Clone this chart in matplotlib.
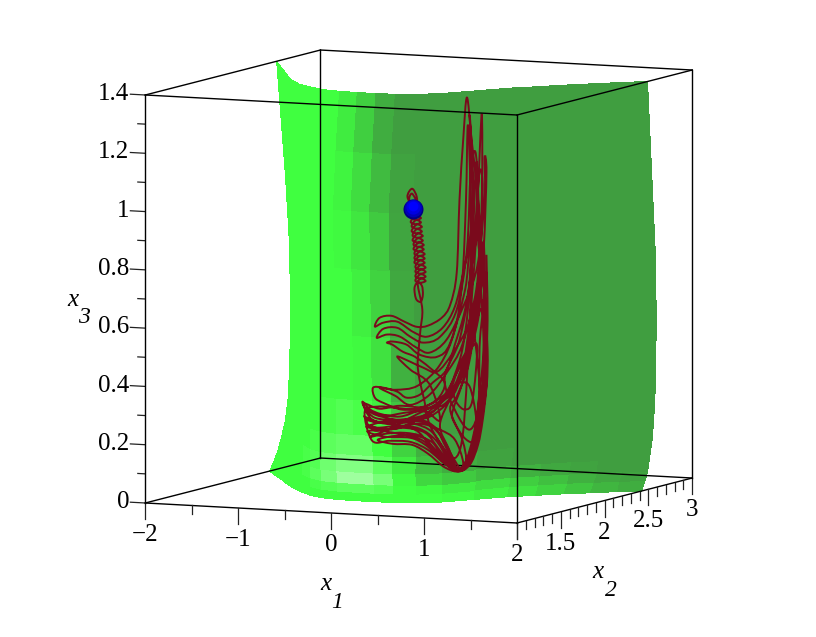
import numpy as np
import matplotlib
matplotlib.use("Agg")
import matplotlib.pyplot as plt
from matplotlib.patches import PathPatch
from matplotlib.path import Path
from mpl_toolkits.mplot3d import art3d, proj3d

plt.rcParams["font.family"] = ["Liberation Serif", "DejaVu Serif"]

# surface: x2 for every (x3, x1) grid node
surf_x1 = [-2.0, -1.8, -1.6, -1.4, -1.2, -1.0, -0.8, -0.6, -0.4, -0.2, 0.0,
           0.2, 0.4, 0.6, 0.8, 1.0, 1.2, 1.4, 1.6, 1.8, 2.0]
surf_x3 = [0.0, 0.03, 0.06, 0.1, 0.16, 0.23, 0.35, 0.57, 0.8, 1.0, 1.2, 1.4]
surf_x2 = [
    [2.42, 2.27, 2.13, 1.98, 1.84, 1.72, 1.61, 1.54, 1.51, 1.50, 1.50, 1.51, 1.55, 1.62, 1.78, 1.94, 2.05, 2.16, 2.25, 2.35, 2.42],
    [2.47, 2.31, 2.16, 2.00, 1.85, 1.73, 1.61, 1.53, 1.50, 1.49, 1.49, 1.50, 1.54, 1.62, 1.78, 1.96, 2.08, 2.20, 2.29, 2.37, 2.46],
    [2.51, 2.35, 2.18, 2.02, 1.87, 1.73, 1.61, 1.53, 1.50, 1.49, 1.49, 1.50, 1.54, 1.62, 1.80, 1.98, 2.10, 2.22, 2.33, 2.41, 2.49],
    [2.55, 2.38, 2.21, 2.04, 1.88, 1.74, 1.61, 1.52, 1.49, 1.48, 1.48, 1.49, 1.53, 1.62, 1.80, 1.99, 2.12, 2.25, 2.34, 2.44, 2.51],
    [2.60, 2.42, 2.24, 2.06, 1.89, 1.75, 1.61, 1.52, 1.49, 1.48, 1.48, 1.49, 1.54, 1.63, 1.82, 2.02, 2.15, 2.27, 2.38, 2.47, 2.54],
    [2.63, 2.44, 2.26, 2.07, 1.90, 1.75, 1.61, 1.52, 1.48, 1.47, 1.47, 1.48, 1.53, 1.62, 1.82, 2.03, 2.17, 2.29, 2.39, 2.49, 2.56],
    [2.65, 2.46, 2.27, 2.08, 1.91, 1.75, 1.61, 1.52, 1.48, 1.47, 1.47, 1.48, 1.53, 1.62, 1.82, 2.04, 2.18, 2.30, 2.41, 2.51, 2.58],
    [2.66, 2.47, 2.28, 2.08, 1.90, 1.75, 1.60, 1.51, 1.47, 1.46, 1.46, 1.47, 1.52, 1.62, 1.82, 2.04, 2.18, 2.30, 2.41, 2.51, 2.59],
    [2.64, 2.45, 2.26, 2.07, 1.89, 1.74, 1.59, 1.50, 1.46, 1.45, 1.45, 1.46, 1.51, 1.60, 1.81, 2.02, 2.16, 2.29, 2.40, 2.50, 2.58],
    [2.60, 2.41, 2.23, 2.04, 1.87, 1.72, 1.58, 1.49, 1.45, 1.44, 1.44, 1.45, 1.50, 1.59, 1.79, 2.00, 2.14, 2.26, 2.37, 2.47, 2.55],
    [2.55, 2.37, 2.19, 2.02, 1.85, 1.71, 1.59, 1.51, 1.48, 1.47, 1.47, 1.48, 1.53, 1.61, 1.79, 1.98, 2.11, 2.23, 2.34, 2.43, 2.52],
    [2.50, 2.33, 2.16, 1.99, 1.83, 1.70, 1.62, 1.55, 1.52, 1.51, 1.51, 1.52, 1.56, 1.65, 1.81, 1.97, 2.08, 2.20, 2.30, 2.40, 2.49],
]
# facet brightness: 0 dark green, 1 full green, 1.5 washed out
surf_shade = [
    [1, 1, 1, 1, 1, 1, 1, 1, 1, 1, 1, 1, 1, .95, .85, .7, .55, .4, .25, .15],
    [1, 1, 1, 1, 1, 1, 1.05, 1.1, 1.15, 1.15, 1.1, 1, .95, .8, .65, .5, .35, .2, .1, .05],
    [1, 1, 1, 1, 1, 1.05, 1.15, 1.3, 1.5, 1.5, 1.3, .95, .6, .45, .3, .2, .1, .05, 0, 0],
    [1, 1, 1, 1, 1, 1.05, 1.1, 1.25, 1.35, 1.35, 1.15, .8, .35, .15, .05, 0, 0, 0, 0, 0],
    [1, 1, 1, 1, 1, 1, 1.05, 1.15, 1.2, 1.2, 1, .55, .2, .05, 0, 0, 0, 0, 0, 0],
    [1, 1, 1, 1, 1, 1, 1, 1.05, 1.1, 1.05, .85, .4, .1, 0, 0, 0, 0, 0, 0, 0],
    [1, 1, 1, 1, 1, 1, 1, 1, 1, .95, .7, .2, .02, 0, 0, 0, 0, 0, 0, 0],
    [1, 1, 1, 1, 1, 1, 1, 1, 1, .85, .55, .1, 0, 0, 0, 0, 0, 0, 0, 0],
    [1, 1, 1, 1, 1, 1, 1, 1, .95, .75, .45, .07, 0, 0, 0, 0, 0, 0, 0, 0],
    [1, 1, 1, 1, 1, 1, 1, 1, .9, .65, .3, .05, 0, 0, 0, 0, 0, 0, 0, 0],
    [1, 1, 1, 1, 1, 1, 1, 1, .8, .5, .15, 0, 0, 0, 0, 0, 0, 0, 0, 0],
]

# trajectory, depth is not readable so it stays at one x2
traj_depth = 1.5
traj_x1 = [
    .41, .35, .40, .45, .44, .37, .40, .46, .44,
    .385, .44, .495, .44, .385, .44, .495, .44, .395, .45, .505, .45, .395, .45, .505, .45,
    .405, .46, .515, .46, .405, .46, .515, .46, .415, .47, .525, .47, .415, .47, .525, .47,
    .425, .48, .535, .48, .425, .48, .535, .48, .425, .48, .535, .48, .435, .49, .545, .49,
    .435, .49, .545, .49, .435, .49, .545, .49, .435, .49, .545, .49,
    .43, .43, .45, .495, .516, .505, .46,
    .51, .49, .47, .46, .48, .53, .59, .75, .89, 1.02, 1.11, 1.16, 1.19, 1.19, 1.16, 1.11, 1.04, .99,
    .95, .91, .88, .81, .72, .57, .45, .32, .18, .05, 0, .09, .24, .41, .56, .73, .86, .95, 1.02, 1.06, 1.02,
    1.05, 1.04, 1.0, .94, .86, .77, .62, .43, .22, 0, -.11, -.13, -.03, .11, .32, .54, .75, .91, 1.02, 1.10, 1.15, 1.15,
    1.11, 1.08, 1.02, .94, .83, .70, .80, .89, .98, 1.08, 1.14, 1.17, 1.17, 1.13, 1.11, 1.08, 1.03, .99, .88, .70, .52, .38, .24, .09, .02,
    .13, .27, .45, .59, .77, .95, 1.10, 1.18, 1.18, 1.20, 1.17, 1.11, 1.02, .94, .81, .59, .38, .11, -.11,
    0, .22, .48, .65, .76, .89, 1.02, 1.11, 1.16, 1.20, 1.21, 1.19, 1.17, 1.13, 1.05, .97, .88, .81, .65, .48, .30, .11, -.09,
    .05, .27, .48, .65, .78, .89, .99, 1.08, 1.13, 1.13, 1.09, 1.04, 1.04, 1.10, 1.02, .97, .81, .67, .48, .34, .19, .13,
    .19, .30, .43, .59, .75, .67, .52, .30, .09, 0, -.02, .09, .24, .34, .48, .62, .77, .86, .97, 1.05, 1.10, 1.13, 1.16,
    1.13, 1.05, .95, .84, .84, .95, 1.05, 1.11, 1.15, 1.20, 1.21, 1.20, 1.15, 1.11, .97, .81, .59, .38, .16, -.05,
    .11, .32, .51, .65, .81, .91, 1.0, 1.06, 1.09, 1.02, .91, .84, .88, .97, 1.05, 1.10, 1.02, .95, .88, .75, .54, .27, .05, -.08,
    .11, .38, .54, .70, .86, .94, 1.02, 1.09, 1.16, 1.17, 1.13, 1.02, .86, .67, .48, .27, .05, -.10,
    0, .22, .43, .61, .76, .89, 1.0, 1.08, 1.12, 1.13, 1.20, 1.02, .84, .67, .52, .38, .24,
    .38, .59, .70, .54, .22, .03, -.11, -.03, .16, .38, .57, .75, .89, .95, .86,
    .70, .48, .22, 0, -.09, .05, .32, .54, .70, .83, .94, 1.04, 1.11, 1.17, 1.15, 1.04, .89, .74, .54, .27, .05, -.12,
    -.03, .16, .43, .59, .75, .89, .98, .94, .81, .89, 1.02, 1.11, 1.14, 1.09, .94, .78, .59, .38, .22, .05,
    .22, .46, .70, .86, .94, .98, 1.0, 1.03, 1.02, .91, .75, .86, 1.02, 1.13, 1.19, 1.18, 1.11, 1.09,
    1.0, .92, .75, .61, .43, .22, .03, .19, .40, .57, .74, .87, .77, .67, .54, .32, .11, -.05,
    .09, .32, .52, .67, .83, .96, 1.05, 1.15, 1.21, 1.20,
]
traj_x3 = [
    1.012, 1.053, 1.081, 1.054, 1.020, 1.043, 1.064, 1.027, .993,
    .982, .975, .982, .989, .967, .960, .967, .974, .952, .945, .952, .959, .936, .929, .936, .943,
    .921, .914, .921, .928, .905, .898, .905, .912, .890, .883, .890, .897, .875, .868, .875, .882,
    .859, .852, .859, .866, .844, .837, .844, .851, .829, .822, .829, .836, .813, .806, .813, .820,
    .798, .791, .798, .805, .782, .775, .782, .789, .767, .760, .767, .774,
    .747, .720, .700, .695, .720, .750, .755,
    .668, .599, .530, .478, .427, .359, .274, .191, .125, .154, .232, .336, .474, .645, .816, 1.055, 1.260, 1.404,
    1.259, 1.052, .801, .690, .644, .614, .608, .623, .641, .632, .601, .616, .622, .590, .576, .610, .684, .802, .917, 1.089, 1.345,
    1.088, .882, .676, .538, .451, .381, .320, .296, .285, .288, .321, .341, .309, .297, .311, .325, .363, .434, .539, .712, 1.056, 1.351,
    1.090, .883, .642, .469, .382, .276, .192, .125, .137, .214, .318, .439, .610, .816, 1.090, 1.220, 1.147, .882, .674, .578, .555, .573, .601, .595, .563,
    .576, .571, .536, .522, .569, .686, .825, 1.057, 1.201, 1.150, .885, .678, .539, .452, .364, .302, .288, .270, .290,
    .275, .282, .290, .265, .202, .125, .144, .215, .301, .415, .542, .714, .909, .816, .643, .514, .458, .398, .327, .290, .276, .277, .256,
    .255, .266, .259, .224, .164, .125, .137, .197, .301, .404, .541, .677, .814, .939, .882, .744, .559, .509, .513, .545, .553, .548,
    .542, .520, .505, .470, .421, .362, .335, .321, .341, .357, .391, .393, .382, .363, .375, .419, .466, .554, .676, .849, 1.055, 1.159, 1.091,
    .850, .608, .435, .330, .296, .240, .221, .242, .301, .415, .474, .645, .782, .644, .470, .381, .333, .295, .253, .222,
    .235, .242, .232, .190, .141, .126, .154, .214, .300, .412, .424, .399, .355, .333, .368, .551, .539, .514, .458, .380, .308, .259, .248, .239,
    .225, .226, .205, .163, .125, .133, .196, .300, .497, .645, .713, .574, .416, .362, .324, .297, .303, .321,
    .299, .285, .275, .251, .185, .129, .168, .266, .386, .576, .807, .632, .526, .458, .469, .487, .502,
    .460, .412, .293, .318, .326, .327, .307, .209, .212, .212, .188, .143, .122, .150, .228,
    .259, .276, .258, .244, .277, .272, .283, .280, .242, .172, .126, .179, .283, .473, .679, .574, .417, .346, .332, .334, .320, .334,
    .281, .270, .255, .206, .157, .118, .154, .229, .329, .383, .505, .746, .953, .746, .555, .460, .378, .339, .367, .392,
    .388, .406, .482, .605, .778, 1.053, 1.311, 1.054, .779, .571, .439, .330, .265, .352, .542, .748, .918, 1.175,
    .500, .200, .167, .216, .234, .230, .213, .202, .202, .175, .133, .120, .158, .200, .246, .259, .249, .260,
    .245, .235, .218, .173, .128, .140, .204, .353, .611, .868,
]
ball = [.41, 1.012]

x1_major = [-2, -1, 0, 1, 2]
x1_minor = [-1.5, -0.5, 0.5, 1.5]
x2_major = [1, 1.5, 2, 2.5, 3]
x2_minor = [1.1, 1.2, 1.3, 1.4, 1.6, 1.7, 1.8, 1.9, 2.1, 2.2, 2.3, 2.4, 2.6, 2.7, 2.8, 2.9]
x3_major = [0, 0.2, 0.4, 0.6, 0.8, 1, 1.2, 1.4]
x3_minor = [0.1, 0.3, 0.5, 0.7, 0.9, 1.1, 1.3]
x1_labels = ["\u22122", "\u22121", "0", "1", "2"]
x2_labels = ["1.5", "2", "2.5", "3"]
x3_labels = ["0", "0.2", "0.4", "0.6", "0.8", "1", "1.2", "1.4"]

W, H = 816, 637
fig = plt.figure(figsize=(W / 100, H / 100), dpi=100)
ax = fig.add_subplot(projection="3d", computed_zorder=False)
ax.set_position([0, -0.14, 1, 1.28])
ax.set_axis_off()
ax.set_proj_type("ortho")
ax.view_init(elev=6.75, azim=-65.4)
ax.set_xlim(-2, 2, view_margin=0)
ax.set_ylim(1, 3, view_margin=0)
ax.set_zlim(0, 1.4, view_margin=0)
ax.set_box_aspect((409, 421, 411))
ax.apply_aspect()


def to_px(x, y, z):
    px, py, _ = proj3d.proj_transform(x, y, z, ax.get_proj())
    return ax.transData.transform((px, py))


# fit the box on the reference: 408 px tall, front bottom corner at (517, 523)
tall = to_px(2, 1, 1.4)[1] - to_px(2, 1, 0)[1]
ax.set_box_aspect((409, 421, 411), zoom=408 / tall)
corner = to_px(2, 1, 0)
pos = ax.get_position()
ax.set_position([pos.x0 + (517 - corner[0]) / W, pos.y0 + (H - 523 - corner[1]) / H,
                 pos.width, pos.height])
ax.apply_aspect()

# surface
dark = np.array([0.25, 0.62, 0.25])
bright = np.array([0.25, 1.0, 0.25])
pale = np.array([0.62, 1.0, 0.62])
shade = np.array(surf_shade, dtype=float)
colors = np.where((shade <= 1)[..., None],
                  dark + np.minimum(shade, 1)[..., None] * (bright - dark),
                  bright + (np.maximum(shade, 1)[..., None] - 1) / 0.5 * (pale - bright))
X1, X3 = np.meshgrid(surf_x1, surf_x3)
ax.plot_surface(X1, np.array(surf_x2), X3, facecolors=colors, rstride=1, cstride=1,
                shade=False, linewidth=0, antialiased=False, zorder=1)

# box, bottom and back edges under the curve, the rest over it
line = dict(color="black", lw=1.0)
back = [((-2, 2), (1, 1), (0, 0)), ((2, 2), (1, 3), (0, 0)), ((-2, 2), (3, 3), (0, 0)),
        ((-2, -2), (1, 3), (0, 0)), ((-2, -2), (3, 3), (0, 1.4))]
front = [((-2, 2), (1, 1), (1.4, 1.4)), ((2, 2), (1, 3), (1.4, 1.4)), ((-2, 2), (3, 3), (1.4, 1.4)),
         ((-2, -2), (1, 3), (1.4, 1.4)), ((-2, -2), (1, 1), (0, 1.4)), ((2, 2), (1, 1), (0, 1.4)),
         ((2, 2), (3, 3), (0, 1.4))]
for e in back:
    ax.plot(*e, zorder=2, **line)
for e in front:
    ax.plot(*e, zorder=5, **line)

# ticks
tick = dict(color="#222222", lw=0.9, zorder=2)
for v in x1_major:
    ax.plot([v, v], [1, 1], [0, -0.055], **tick)
for v in x1_minor:
    ax.plot([v, v], [1, 1], [0, -0.03], **tick)
for v in x2_major:
    ax.plot([2, 2], [v, v], [0, -0.055], **tick)
for v in x2_minor:
    ax.plot([2, 2], [v, v], [0, -0.03], **tick)
for v in x3_major:
    ax.plot([-2, -2.16], [1, 1], [v, v], **tick)
for v in x3_minor:
    ax.plot([-2, -2.08], [1, 1], [v, v], **tick)

FS = 18


def put(x, y, z, s, ha):
    px, py = to_px(x, y, z)
    fig.text(px / W, py / H, s, fontsize=FS, ha=ha, va="center")


for v, s in zip(x1_major, x1_labels):
    put(v, 1, -0.11, s, "center")
for v, s in zip(x2_major[1:], x2_labels):
    put(2, v, -0.11, s, "center")
for v, s in zip(x3_major, x3_labels):
    put(-2.17, 1, v, s, "right")

# axis names
names = [("x", "1", 326, 584, 337, 603), ("x", "2", 598, 572, 611, 590), ("x", "3", 73, 300, 84, 318)]
for a, b, xa, ya, xb, yb in names:
    fig.text(xa / W, 1 - ya / H, a, fontsize=FS, style="italic", ha="center", va="center")
    fig.text(xb / W, 1 - yb / H, b, fontsize=FS - 1, style="italic", ha="center", va="center")

# trajectory as one smooth path through all its points
pts = np.column_stack([traj_x1, traj_x3])
before = np.vstack([pts[0], pts[:-2]])
after = np.vstack([pts[2:], pts[-1]])
verts = [pts[0]]
codes = [Path.MOVETO]
for i in range(len(pts) - 1):
    verts += [pts[i] + (pts[i + 1] - before[i]) / 6, pts[i + 1] - (after[i] - pts[i]) / 6, pts[i + 1]]
    codes += [Path.CURVE4] * 3
curve = PathPatch(Path(verts, codes), fill=False, edgecolor="#7A0A1C", lw=1.4, zorder=4)
ax.add_patch(curve)
art3d.pathpatch_2d_to_3d(curve, z=traj_depth, zdir="y")

ball_layers = [(207, "#000080", 0), (165, "#0000B8", 0.003), (105, "#0000E0", 0.006), (50, "#0000FF", 0.009)]
for s, c, up in ball_layers:
    ax.scatter([ball[0]], [traj_depth], [ball[1] + up], s=s, color=c, linewidths=0,
               depthshade=False, zorder=6)

fig.savefig("out.png", dpi=100)
